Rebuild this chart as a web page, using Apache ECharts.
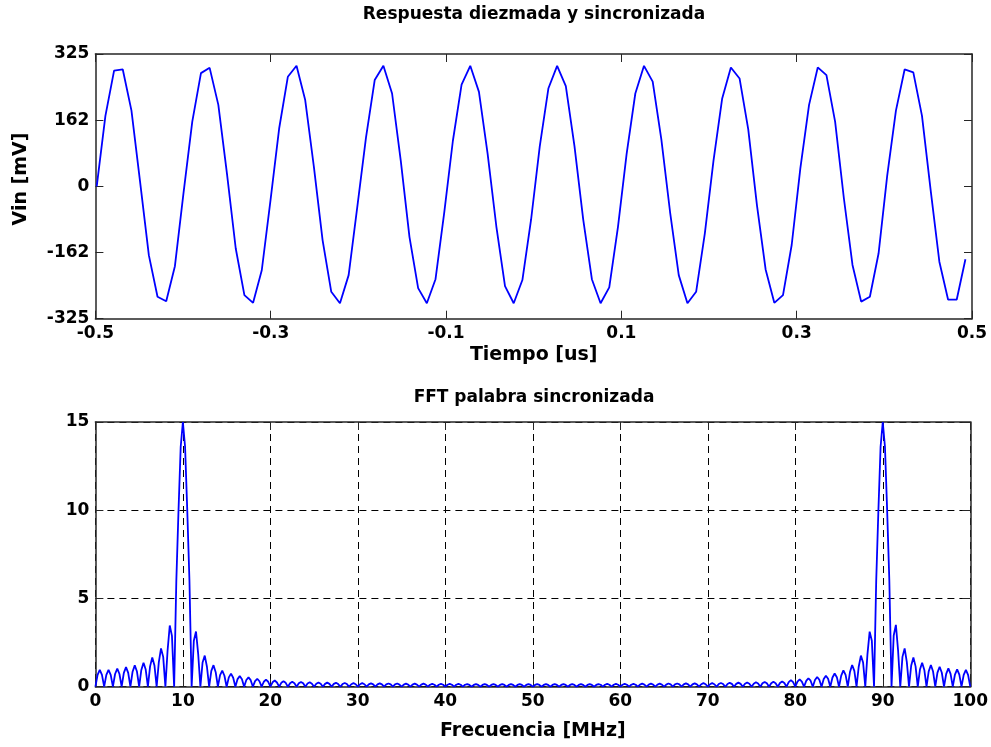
<!DOCTYPE html>
<html><head><meta charset="utf-8">
<script src="https://cdn.jsdelivr.net/npm/echarts@6/dist/echarts.min.js"></script>
<style>html,body{margin:0;padding:0;background:#fff}#c{width:991px;height:747px}</style>
</head><body><div id="c"></div>
<script>
// ---- Top plot: decimated, synchronized response ----
const timeUs = [
-0.49850,-0.48859,-0.47868,-0.46877,-0.45886,-0.44895,-0.43904,-0.42913,-0.41922,-0.40931,
-0.39940,-0.38949,-0.37958,-0.36967,-0.35976,-0.34985,-0.33994,-0.33003,-0.32012,-0.31021,
-0.30030,-0.29039,-0.28048,-0.27057,-0.26066,-0.25075,-0.24084,-0.23093,-0.22102,-0.21111,
-0.20120,-0.19129,-0.18138,-0.17147,-0.16156,-0.15165,-0.14174,-0.13183,-0.12192,-0.11201,
-0.10210,-0.09219,-0.08228,-0.07237,-0.06246,-0.05255,-0.04264,-0.03273,-0.02282,-0.01291,
-0.00300,0.00691,0.01682,0.02673,0.03664,0.04655,0.05646,0.06637,0.07628,0.08619,
0.09610,0.10601,0.11592,0.12583,0.13574,0.14565,0.15556,0.16547,0.17538,0.18529,
0.19520,0.20511,0.21502,0.22493,0.23484,0.24475,0.25466,0.26457,0.27448,0.28439,
0.29430,0.30421,0.31412,0.32403,0.33394,0.34385,0.35376,0.36367,0.37358,0.38349,
0.39340,0.40331,0.41322,0.42313,0.43304,0.44295,0.45286,0.46277,0.47268,0.48259,
0.49250];
const vinMv = [
0,173,284,287,186,10,-169,-271,-282,-196,
-15,159,278,291,200,30,-152,-267,-286,-206,
-35,142,269,296,212,48,-132,-259,-287,-218,
-50,120,261,296,228,63,-124,-250,-287,-228,
-65,112,250,296,232,80,-98,-245,-287,-230,
-82,98,241,296,246,98,-81,-228,-287,-248,
-100,80,228,296,257,115,-63,-218,-287,-259,
-116,63,216,292,265,140,-46,-204,-286,-267,
-144,45,200,292,273,159,-28,-193,-283,-271,
-165,27,186,287,280,173,-10,-185,-278,-278,
-179];
const timeTicks = [-0.5,-0.3,-0.1,0.1,0.3,0.5];

// ---- Bottom plot: FFT magnitude, read on a 0.25 MHz grid (0 .. 100 MHz) ----
const freqStepMHz = 0.25;
const fftMag = [
0,0.67,0.95,0.67, 0,0.67,0.95,0.67, 0,0.72,1.02,0.72, 0,0.78,1.11,0.78, 0,0.85,1.21,0.86,
0,0.95,1.36,0.97, 0,1.15,1.66,1.2, 0,1.39,2.17,1.69, 0,2.05,3.47,2.88, 0,6,10,13.6,
15,13.6,10,6, 0,2.6,3.13,1.85, 0,1.37,1.76,1.13, 0,0.9,1.22,0.82, 0,0.66,0.91,0.62,
0,0.53,0.74,0.51, 0,0.43,0.6,0.42, 0,0.38,0.53,0.37, 0,0.32,0.45,0.31, 0,0.28,0.4,0.28,
0,0.25,0.35,0.24, 0,0.22,0.31,0.22, 0,0.2,0.28,0.2, 0,0.19,0.27,0.19, 0,0.18,0.25,0.17,
0,0.17,0.24,0.17, 0,0.16,0.23,0.16, 0,0.16,0.22,0.15, 0,0.15,0.21,0.15, 0,0.14,0.2,0.14,
0,0.14,0.2,0.14, 0,0.13,0.19,0.13, 0,0.13,0.19,0.13, 0,0.13,0.18,0.13, 0,0.13,0.18,0.12,
0,0.12,0.17,0.12, 0,0.12,0.17,0.12, 0,0.12,0.17,0.12, 0,0.11,0.16,0.11, 0,0.11,0.16,0.11,
0,0.11,0.16,0.11, 0,0.11,0.16,0.11, 0,0.11,0.15,0.1, 0,0.1,0.15,0.1, 0,0.1,0.15,0.1,
0,0.1,0.15,0.1, 0,0.1,0.15,0.1, 0,0.1,0.15,0.1, 0,0.1,0.15,0.1, 0,0.1,0.15,0.1,
0,0.1,0.15,0.1, 0,0.1,0.15,0.1, 0,0.1,0.15,0.1, 0,0.1,0.15,0.1, 0,0.1,0.15,0.1,
0,0.1,0.15,0.1, 0,0.1,0.15,0.1, 0,0.1,0.15,0.11, 0,0.11,0.16,0.11, 0,0.11,0.16,0.11,
0,0.11,0.16,0.11, 0,0.11,0.16,0.11, 0,0.12,0.17,0.12, 0,0.12,0.17,0.12, 0,0.12,0.17,0.12,
0,0.12,0.18,0.13, 0,0.13,0.18,0.13, 0,0.13,0.19,0.13, 0,0.13,0.19,0.13, 0,0.14,0.2,0.14,
0,0.14,0.2,0.14, 0,0.15,0.21,0.15, 0,0.15,0.22,0.16, 0,0.16,0.23,0.16, 0,0.17,0.24,0.17,
0,0.17,0.25,0.18, 0,0.19,0.27,0.19, 0,0.2,0.28,0.2, 0,0.21,0.3,0.21, 0,0.26,0.37,0.26,
0,0.29,0.41,0.29, 0,0.33,0.48,0.34, 0,0.38,0.55,0.39, 0,0.43,0.62,0.45, 0,0.52,0.75,0.54,
0,0.63,0.93,0.67, 0,0.83,1.23,0.9, 0,1.13,1.76,1.37, 0,1.85,3.12,2.6, 0,6,10,13.6,
15,13.6,10,6, 0,2.9,3.5,2.05, 0,1.69,2.17,1.39, 0,1.2,1.66,1.15, 0,0.97,1.36,0.95,
0,0.87,1.23,0.86, 0,0.8,1.13,0.79, 0,0.73,1.04,0.73, 0,0.69,0.98,0.68, 0,0.67,0.95,0.67,
0];

const lbl = {fontFamily: 'DejaVu Sans', fontWeight: 'bold', fontSize: 17, color: '#000'};
const nameStyle = {fontFamily: 'DejaVu Sans', fontWeight: 'bold', fontSize: 19, color: '#000'};
const boxLine = {show: true, onZero: false, lineStyle: {color: '#262626', width: 1.5}};
const tickIn = (extra) => Object.assign({show: true, inside: true, length: 8, lineStyle: {color: '#262626', width: 1}}, extra || {});
const dashGrid = {show: true, lineStyle: {color: '#000', width: 1, type: [7, 5]}};

const chart = echarts.init(document.getElementById('c'), null, {renderer: 'canvas'});
chart.setOption({
  animation: false,
  backgroundColor: '#fff',
  grid: [
    {left: 95.4, right: 19, top: 54, height: 264.7},
    {left: 95.4, right: 19, top: 422, height: 264.7}
  ],
  xAxis: [
    {gridIndex: 0, type: 'value', min: -0.5, max: 0.5, position: 'bottom',
     axisLine: boxLine, axisTick: tickIn({customValues: timeTicks}),
     axisLabel: Object.assign({}, lbl, {margin: 6, customValues: timeTicks, formatter: v => String(v)}),
     splitLine: {show: false},
     name: 'Tiempo [us]', nameLocation: 'middle', nameGap: 27, nameTextStyle: nameStyle},
    {gridIndex: 0, type: 'value', min: -0.5, max: 0.5, position: 'top',
     axisLine: boxLine, axisTick: tickIn({customValues: timeTicks}),
     axisLabel: {show: false}, splitLine: {show: false}},
    {gridIndex: 1, type: 'value', min: 0, max: 100, interval: 10, position: 'bottom',
     axisLine: boxLine, axisTick: tickIn(),
     axisLabel: Object.assign({}, lbl, {margin: 6}),
     splitLine: dashGrid,
     name: 'Frecuencia [MHz]', nameLocation: 'middle', nameGap: 35, nameTextStyle: nameStyle},
    {gridIndex: 1, type: 'value', min: 0, max: 100, interval: 10, position: 'top',
     axisLine: boxLine, axisTick: tickIn(), axisLabel: {show: false}, splitLine: {show: false}}
  ],
  yAxis: [
    {gridIndex: 0, type: 'value', min: -325, max: 325, interval: 162.5, position: 'left',
     axisLine: boxLine, axisTick: tickIn(),
     axisLabel: Object.assign({}, lbl, {margin: 6, formatter: v => String(Math.trunc(v))}),
     splitLine: {show: false}},
    {gridIndex: 0, type: 'value', min: -325, max: 325, interval: 162.5, position: 'right',
     axisLine: boxLine, axisTick: tickIn(), axisLabel: {show: false}, splitLine: {show: false}},
    {gridIndex: 1, type: 'value', min: 0, max: 15, interval: 5, position: 'left',
     axisLine: boxLine, axisTick: tickIn(),
     axisLabel: Object.assign({}, lbl, {margin: 6}),
     splitLine: dashGrid},
    {gridIndex: 1, type: 'value', min: 0, max: 15, interval: 5, position: 'right',
     axisLine: boxLine, axisTick: tickIn(), axisLabel: {show: false}, splitLine: {show: false}}
  ],
  graphic: [
    {type: 'text', x: 534, y: 15, style: {text: 'Respuesta diezmada y sincronizada', font: 'bold 17px "DejaVu Sans"', fill: '#000', textAlign: 'center', textVerticalAlign: 'middle'}},
    {type: 'text', x: 534, y: 398, style: {text: 'FFT palabra sincronizada', font: 'bold 17px "DejaVu Sans"', fill: '#000', textAlign: 'center', textVerticalAlign: 'middle'}},
    {type: 'text', x: 21, y: 179, rotation: Math.PI / 2, style: {text: 'Vin [mV]', font: 'bold 19px "DejaVu Sans"', fill: '#000', textAlign: 'center', textVerticalAlign: 'middle'}}
  ],
  series: [
    {type: 'line', xAxisIndex: 0, yAxisIndex: 0, symbol: 'none', showSymbol: false,
     data: timeUs.map((t, i) => [t, vinMv[i]]),
     lineStyle: {color: '#0000ff', width: 1.8}, itemStyle: {color: '#0000ff'}},
    {type: 'line', xAxisIndex: 2, yAxisIndex: 2, symbol: 'none', showSymbol: false,
     data: fftMag.map((m, i) => [i * freqStepMHz, m]),
     lineStyle: {color: '#0000ff', width: 1.8}, itemStyle: {color: '#0000ff'}}
  ]
});
</script></body></html>
